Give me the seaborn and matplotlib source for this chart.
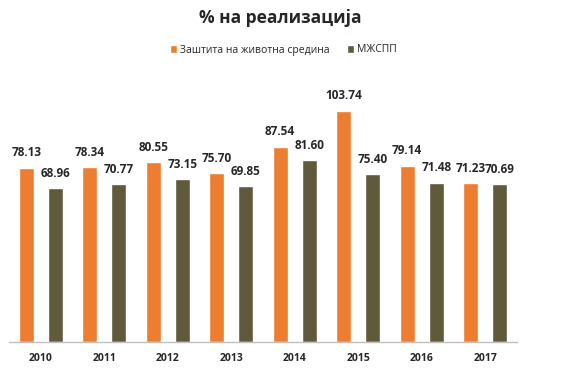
import pandas as pd
import matplotlib
matplotlib.use('Agg')
import matplotlib.pyplot as plt
import seaborn as sns

# podatoci od grafikot
godini = ['2010', '2011', '2012', '2013', '2014', '2015', '2016', '2017']
zastita = [78.13, 78.34, 80.55, 75.70, 87.54, 103.74, 79.14, 71.23]
mzspp = [68.96, 70.77, 73.15, 69.85, 81.60, 75.40, 71.48, 70.69]
serii = ['Заштита на животна средина', 'МЖСПП']
boi = ['#ED7D31', '#5E5A3B']

df = pd.DataFrame({
    'godina': godini * 2,
    'vrednost': zastita + mzspp,
    'serija': [serii[0]] * len(godini) + [serii[1]] * len(godini),
})

sns.set_style('white')
plt.rcParams['font.family'] = ['Open Sans', 'DejaVu Sans']

fig = plt.figure(figsize=(5.61, 3.68), dpi=100)
ax = fig.add_axes([9 / 561, 26 / 368, 508 / 561, 252 / 368])

sns.barplot(
    data=df,
    x='godina',
    y='vrednost',
    hue='serija',
    palette=boi,
    saturation=1,
    width=0.92,
    gap=0.48,
    ax=ax,
)

ax.set_ylim(0, 113)
ax.set_xlim(-0.5, len(godini) - 0.5)
ax.set_xlabel('')
ax.set_ylabel('')
ax.set_yticks([])
ax.tick_params(axis='x', length=0, pad=8, labelsize=7.5)
for lbl in ax.get_xticklabels():
    lbl.set_fontweight('bold')

for s in ['top', 'right', 'left']:
    ax.spines[s].set_visible(False)
ax.spines['bottom'].set_color('#BFBFBF')
ax.spines['bottom'].set_linewidth(1)

# etiketi so vrednostite
for cont in ax.containers:
    ax.bar_label(cont, fmt='%.2f', padding=6, fontsize=8.5, fontweight='bold')

ax.legend(
    loc='center',
    bbox_to_anchor=(0.505, 1 - 50 / 368),
    bbox_transform=fig.transFigure,
    ncol=2,
    frameon=False,
    fontsize=7.5,
    handlelength=0.7,
    handleheight=0.7,
    handletextpad=0.3,
    columnspacing=1.6,
)

fig.text(0.5, 1 - 18 / 368, '% на реализација', ha='center', va='center',
         fontsize=12.5, fontweight='bold')

fig.savefig('out.png', dpi=100)
